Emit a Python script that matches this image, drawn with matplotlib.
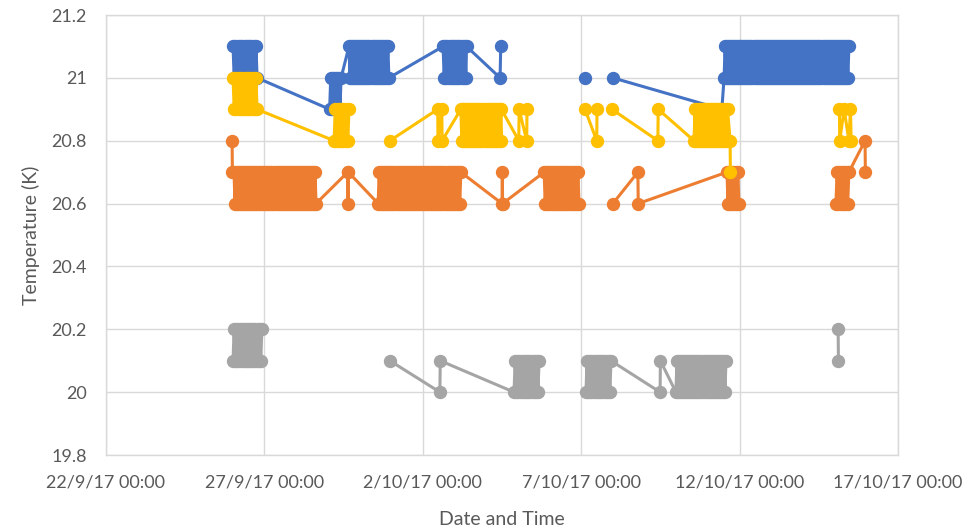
import numpy as np
import matplotlib.pyplot as plt
import matplotlib.dates as mdates
from datetime import datetime

nan = np.nan
start = datetime(2017, 9, 22)

# times are days after 22/9/17 00:00, nan marks a break in the log
# blocks = stretches where the reading flickers between two levels:
# (first day, last day, first level, other level, number of readings)
blue_t = [11.38, 12.44, 12.46, 13.5, 15.12, 15.5, 16.0, 19.44]
blue_v = [21.1, 21.0, 21.1, nan, 21.0, nan, 21.0, 20.9]
blue_blocks = [(4.01, 4.77, 21.1, 21.0, 22),
               (7.06, 7.42, 20.9, 21.0, 12),
               (7.67, 8.93, 21.1, 21.0, 40),
               (10.64, 11.36, 21.1, 21.0, 22),
               (19.51, 23.45, 21.0, 21.1, 124)]

orange_t = [3.98, 3.99, 7.63, 7.64, 7.65, 12.50, 12.51, 12.52, 15.5, 16.0,
            16.79, 16.80, 21.0, 23.96, 23.97]
orange_v = [20.8, 20.7, 20.7, 20.6, 20.7, 20.6, 20.7, 20.6, nan, 20.6,
            20.7, 20.6, nan, 20.8, 20.7]
orange_blocks = [(4.04, 6.63, 20.7, 20.6, 82),
                 (8.59, 11.20, 20.6, 20.7, 82),
                 (13.83, 14.93, 20.7, 20.6, 34),
                 (19.60, 19.98, 20.7, 20.6, 12),
                 (23.04, 23.45, 20.6, 20.7, 12)]

grey_t = [6.5, 8.96, 10.54, 10.55, 14.5, 17.49, 17.50, 21.0, 23.11, 23.12]
grey_v = [nan, 20.1, 20.0, 20.1, nan, 20.0, 20.1, nan, 20.2, 20.1]
grey_blocks = [(4.01, 4.92, 20.1, 20.2, 28),
               (12.88, 13.67, 20.0, 20.1, 24),
               (15.15, 15.94, 20.0, 20.1, 24),
               (17.99, 19.57, 20.0, 20.1, 50)]

yellow_t = [8.5, 8.96, 10.47, 10.48, 10.60, 10.61, 12.48, 13.03, 13.04, 13.28,
            13.29, 14.0, 15.12, 15.49, 15.50, 15.7, 15.97, 17.42, 17.43,
            19.70, 19.71, 20.5, 23.15, 23.16, 23.30, 23.45, 23.50, 23.52]
yellow_v = [nan, 20.8, 20.9, 20.8, 20.9, 20.8, 20.9, 20.8, 20.9, 20.8,
            20.9, nan, 20.9, 20.8, 20.9, nan, 20.9, 20.8, 20.9,
            20.8, 20.7, nan, 20.9, 20.8, 20.9, 20.8, 20.9, 20.8]
yellow_blocks = [(4.01, 4.77, 21.0, 20.9, 22),
                 (7.20, 7.67, 20.8, 20.9, 14),
                 (11.20, 12.47, 20.9, 20.8, 40),
                 (18.56, 19.62, 20.8, 20.9, 34)]

x_ticklabels = ['22/9/17 00:00', '27/9/17 00:00', '2/10/17 00:00',
                '7/10/17 00:00', '12/10/17 00:00', '17/10/17 00:00']
y_ticks = [19.8, 20.0, 20.2, 20.4, 20.6, 20.8, 21.0, 21.2]
y_ticklabels = ['19.8', '20', '20.2', '20.4', '20.6', '20.8', '21', '21.2']


def build(ts, vs, blocks):
    t = list(ts)
    v = list(vs)
    for t0, t1, a, b, n in blocks:
        tt = np.linspace(t0, t1, n)
        t += list(tt)
        v += [a if i % 2 == 0 else b for i in range(n)]
    t = np.array(t)
    v = np.array(v)
    idx = np.argsort(t, kind='stable')
    return mdates.date2num(start) + t[idx], v[idx]


plt.rcParams['font.family'] = ['Lato', 'DejaVu Sans']
grey_txt = '#595959'

fig = plt.figure(figsize=(9.7, 5.29), dpi=100)
ax = fig.add_axes([106/970, 1 - 455/529, (898 - 106)/970, (455 - 15)/529])

series = [(blue_t, blue_v, blue_blocks, '#4472C4'),
          (orange_t, orange_v, orange_blocks, '#ED7D31'),
          (grey_t, grey_v, grey_blocks, '#A5A5A5'),
          (yellow_t, yellow_v, yellow_blocks, '#FFC000')]

for ts, vs, blocks, col in series:
    x, y = build(ts, vs, blocks)
    ax.plot(x, y, '-o', color=col, lw=2.2, ms=8.6, mec=col,
            solid_joinstyle='round', solid_capstyle='round', clip_on=False)

x0 = mdates.date2num(start)
ax.set_xlim(x0, x0 + 25)
ax.set_xticks([x0 + 5 * i for i in range(6)])
ax.set_xticklabels(x_ticklabels)
ax.set_ylim(19.8, 21.2)
ax.set_yticks(y_ticks)
ax.set_yticklabels(y_ticklabels)

ax.grid(color='#D9D9D9', lw=1.0)
ax.set_axisbelow(True)
for s in ax.spines.values():
    s.set_color('#D9D9D9')
    s.set_linewidth(1.0)
ax.tick_params(length=0, labelsize=13, colors=grey_txt)
ax.tick_params(axis='x', pad=14)
ax.tick_params(axis='y', pad=14)

ax.set_xlabel('Date and Time', fontsize=14, color=grey_txt, labelpad=15)
ax.set_ylabel('Temperature (K)', fontsize=14, color=grey_txt, labelpad=8)

fig.savefig('out.png', dpi=100)
